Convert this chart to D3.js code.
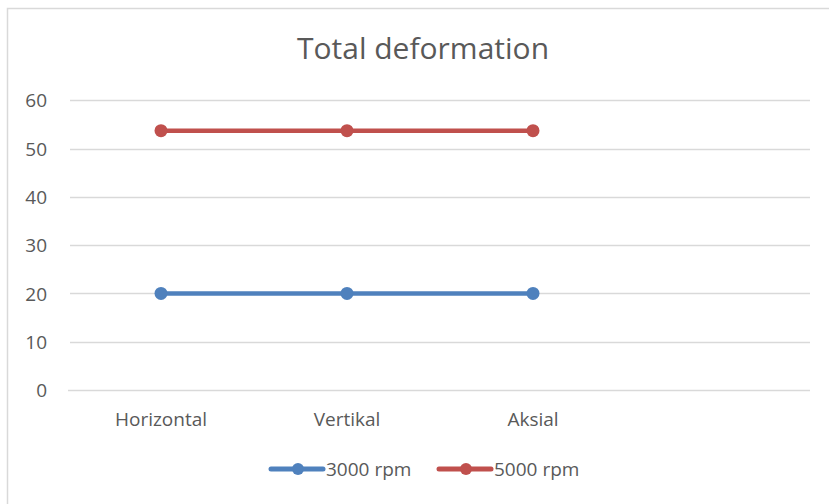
<!DOCTYPE html>
<html><head><meta charset="utf-8">
<script src="https://cdn.jsdelivr.net/npm/d3@7"></script>
<style>html,body{margin:0;padding:0;background:#fff;}svg{display:block;}</style>
</head><body>
<svg id="chart" width="829" height="504"></svg>
<script>
const categories = ["Horizontal", "Vertikal", "Aksial", ""];
const seriesNames = ["3000 rpm", "5000 rpm"];
const values3000 = [20, 20, 20];
const values5000 = [53.7, 53.7, 53.7];
const yTicks = [0, 10, 20, 30, 40, 50, 60];
const titleText = "Total deformation";
const colors = ["#4F81BD", "#C0504D"];

const svg = d3.select("#chart");
const font = "'Open Sans', 'Noto Sans', sans-serif";
const textColor = "#595959";

// chart frame
svg.append("rect").attr("x", 7.5).attr("y", 8.5).attr("width", 900).attr("height", 600)
  .attr("fill", "#fff").attr("stroke", "#d9d9d9").attr("stroke-width", 1.5);

const x = d3.scaleBand().domain(categories).range([68, 812]);
const y = d3.scaleLinear().domain([0, 60]).range([390, 100.2]);

// title
svg.append("text").attr("x", 423).attr("y", 59).attr("text-anchor", "middle")
  .attr("font-family", font).attr("font-size", 30).attr("fill", textColor).text(titleText);

// gridlines
svg.append("g").selectAll("line").data(yTicks.filter(d => d > 0)).join("line")
  .attr("x1", 70).attr("x2", 810).attr("y1", d => Math.round(y(d)) + 0.5).attr("y2", d => Math.round(y(d)) + 0.5)
  .attr("stroke", "#d9d9d9").attr("stroke-width", 1.3);

// y axis
const yAxis = svg.append("g").attr("transform", "translate(52,0)")
  .call(d3.axisLeft(y).tickValues(yTicks).tickSize(0).tickPadding(5));
yAxis.select(".domain").remove();
yAxis.selectAll("text").attr("font-family", font).attr("font-size", 19).attr("fill", textColor)
  .attr("dy", "0.35em");

// x axis
const xAxis = svg.append("g").attr("transform", `translate(0,${Math.round(y(0)) + 0.5})`)
  .call(d3.axisBottom(x).tickSize(0).tickPadding(20));
xAxis.select(".domain").attr("d", "M68,0H810").attr("stroke", "#d9d9d9").attr("stroke-width", 1.3);
xAxis.selectAll("text").attr("font-family", font).attr("font-size", 19).attr("fill", textColor)
  .attr("dy", "0.35em").attr("y", 29);

// series
const seriesData = [values3000, values5000];
const cx = i => x(categories[i]) + x.bandwidth() / 2;
const line = d3.line().x((d, i) => cx(i)).y(d => y(d));
seriesData.forEach((vals, s) => {
  svg.append("path").datum(vals).attr("d", line).attr("fill", "none")
    .attr("stroke", colors[s]).attr("stroke-width", 4.5).attr("stroke-linecap", "round");
  svg.append("g").selectAll("circle").data(vals).join("circle")
    .attr("cx", (d, i) => cx(i)).attr("cy", d => y(d)).attr("r", 6.5).attr("fill", colors[s]);
});

// legend
const legendItems = [{x: 271, name: seriesNames[0], c: colors[0]}, {x: 439, name: seriesNames[1], c: colors[1]}];
const lg = svg.append("g");
legendItems.forEach(it => {
  lg.append("line").attr("x1", it.x).attr("x2", it.x + 52).attr("y1", 469).attr("y2", 469)
    .attr("stroke", it.c).attr("stroke-width", 5).attr("stroke-linecap", "round");
  lg.append("circle").attr("cx", it.x + 27).attr("cy", 469).attr("r", 6).attr("fill", it.c);
  lg.append("text").attr("x", it.x + 55).attr("y", 469).attr("dy", "0.35em")
    .attr("font-family", font).attr("font-size", 19).attr("fill", textColor).text(it.name);
});
</script>
</body></html>
